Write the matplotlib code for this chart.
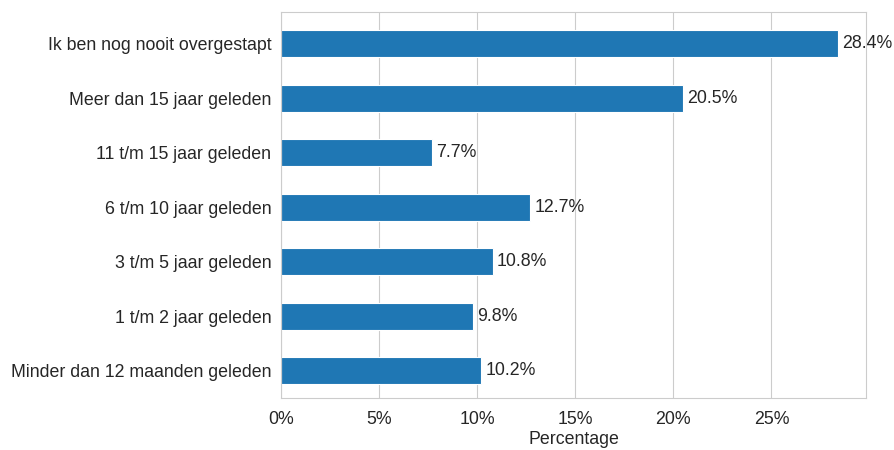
import numpy as np
import matplotlib
matplotlib.use('Agg')
import matplotlib.pyplot as plt
import seaborn as sns
from matplotlib.ticker import FuncFormatter

sns.set_style('whitegrid')
plt.rcParams['font.family'] = ['Liberation Sans', 'DejaVu Sans']

categories = [
    'Minder dan 12 maanden geleden',
    '1 t/m 2 jaar geleden',
    '3 t/m 5 jaar geleden',
    '6 t/m 10 jaar geleden',
    '11 t/m 15 jaar geleden',
    'Meer dan 15 jaar geleden',
    'Ik ben nog nooit overgestapt',
]
percentages = [10.2, 9.8, 10.8, 12.7, 7.7, 20.5, 28.4]

fs = 12.8
fig = plt.figure(figsize=(8.94, 4.5), dpi=100)
ax = fig.add_axes([0.3143, 0.1156, 0.9687 - 0.3143, 0.9733 - 0.1156])

pos = np.arange(len(categories))
bars = ax.barh(pos, percentages, height=0.5, color='#1f77b4', edgecolor='white', linewidth=0.8)
ax.bar_label(bars, labels=[f'{v}%' for v in percentages], padding=3, fontsize=fs, color='#262626')

ax.set_yticks(pos)
ax.set_yticklabels(categories, fontsize=fs)
ax.set_ylim(-0.5, 6.58)
ax.set_xlim(0, 29.82)
ax.set_xticks([0, 5, 10, 15, 20, 25])
ax.xaxis.set_major_formatter(FuncFormatter(lambda v, p: f'{v:.0f}%'))
ax.tick_params(axis='x', labelsize=fs, pad=6)
ax.tick_params(axis='y', pad=3.5)
ax.grid(axis='y', visible=False)
ax.set_xlabel('Percentage', fontsize=fs, labelpad=2)

plt.savefig('out.png', dpi=100)
